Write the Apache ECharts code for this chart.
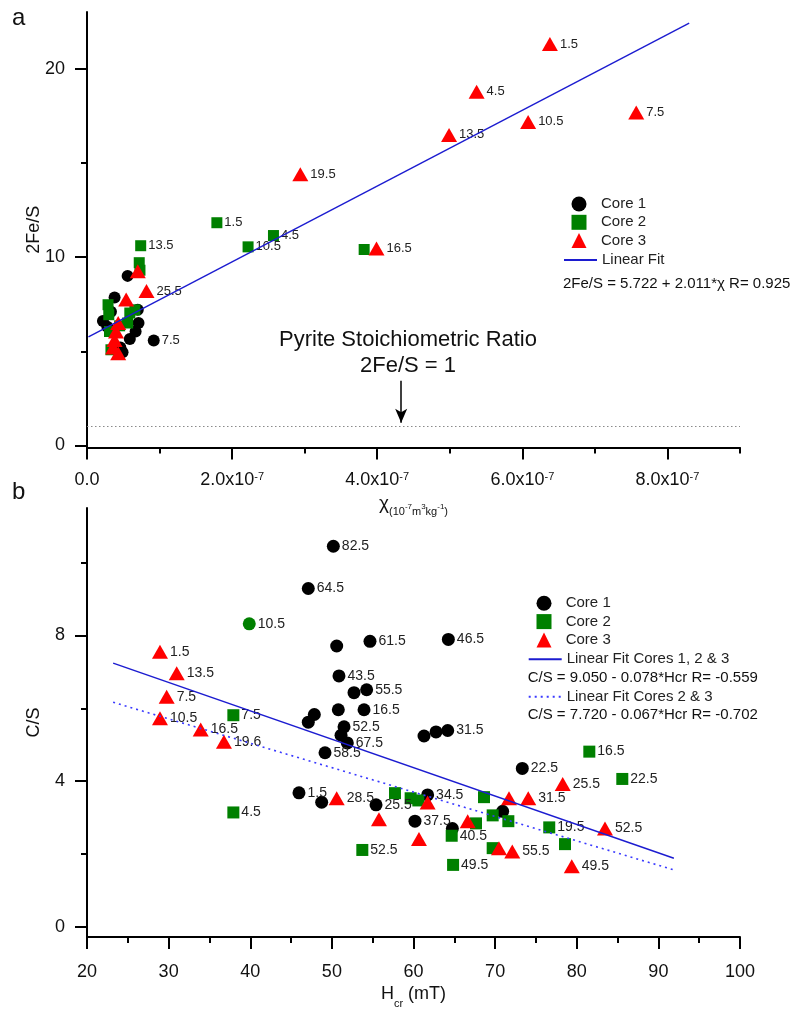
<!DOCTYPE html>
<html>
<head>
<meta charset="utf-8">
<script src="https://cdn.jsdelivr.net/npm/echarts@6/dist/echarts.min.js"></script>
<style>
  html, body { margin: 0; padding: 0; background: #fff; }
  #chart { width: 798px; height: 1010px; }
</style>
</head>
<body>
<div id="chart"></div>
<script>
// ---------- Panel a: 2Fe/S against susceptibility chi (x values in units of 1e-7 m3/kg) ----------
// each point: [chi, 2Fe/S, depth label]
const chiCore1 = [
  [0.56, 9.0], [0.38, 7.85], [0.33, 7.1], [0.22, 6.6], [0.70, 7.2], [0.71, 6.5],
  [0.67, 6.05], [0.59, 5.65], [0.46, 5.2], [0.49, 4.95], [0.28, 6.3], [0.92, 5.57, '7.5']
];
const chiCore2 = [
  [0.74, 10.6, '13.5'], [0.72, 9.7], [0.73, 9.3], [0.29, 7.47], [0.30, 6.94], [0.31, 6.05],
  [0.33, 5.08], [0.59, 7.03], [0.66, 7.2], [0.56, 6.5], [0.45, 6.35],
  [1.79, 11.82, '1.5'], [2.22, 10.54, '10.5'], [2.57, 11.14, '4.5'], [3.82, 10.4]
];
const chiCore3 = [
  [0.70, 9.25], [0.82, 8.2, '25.5'], [0.54, 7.75], [0.43, 6.5], [0.40, 6.05], [0.38, 5.6],
  [0.36, 5.2], [0.43, 4.9], [2.94, 14.39, '19.5'], [3.99, 10.45, '16.5'], [4.99, 16.48, '13.5'],
  [5.37, 18.77, '4.5'], [6.08, 17.17, '10.5'], [6.38, 21.3, '1.5'], [7.57, 17.67, '7.5']
];
// fitted line 2Fe/S = 5.722 + 2.011*chi, drawn over the sampled chi range
const fitTop = { intercept: 5.722, slope: 2.011, from: 0.02, to: 8.3 };
const pyriteRatio = 1;          // stoichiometric 2Fe/S of pyrite
const arrowChi = 4.33;          // x position of the annotation arrow
const arrowFrom = 3.43, arrowTo = 1.21;

const chiTicks = [0, 2, 4, 6, 8];
const chiMinor = [1, 3, 5, 7, 9];
const feTicks = [0, 10, 20];
const feMinor = [5, 15];

// ---------- Panel b: C/S against coercivity of remanence Hcr (mT) ----------
const hcrCore1 = [
  [50.18, 10.45, '82.5'], [47.11, 9.29, '64.5'], [50.59, 7.71], [54.67, 7.84, '61.5'],
  [64.27, 7.89, '46.5'], [50.87, 6.89, '43.5'], [52.71, 6.43], [54.26, 6.51, '55.5'],
  [50.79, 5.96], [53.94, 5.96, '16.5'], [47.85, 5.83], [47.11, 5.62], [51.49, 5.49, '52.5'],
  [51.12, 5.26], [51.89, 5.05, '67.5'], [49.16, 4.78, '58.5'], [61.29, 5.24], [62.76, 5.35],
  [64.19, 5.39, '31.5'], [73.33, 4.35, '22.5'], [45.97, 3.68, '1.5'], [48.75, 3.42],
  [55.41, 3.35, '25.5'], [61.73, 3.62, '34.5'], [60.18, 2.90, '37.5'], [64.76, 2.70], [70.92, 3.17]
];
const hcrCore2 = [
  [37.93, 5.81, '7.5'], [37.93, 3.14, '4.5'], [53.73, 2.11, '52.5'], [57.73, 3.67],
  [59.65, 3.53], [60.59, 3.47], [64.68, 2.50, '40.5'], [64.85, 1.70, '49.5'], [67.66, 2.84],
  [68.64, 3.56], [69.70, 3.06], [71.62, 2.90], [69.70, 2.16], [76.63, 2.73, '19.5'],
  [78.56, 2.27], [81.54, 4.81, '16.5'], [85.58, 4.06, '22.5']
];
// Core 2 sample plotted with a round marker
const hcrCore2Round = [[39.88, 8.32, '10.5']];
const hcrCore3 = [
  [28.94, 7.55, '1.5'], [30.99, 6.96, '13.5'], [29.76, 6.32, '7.5'], [28.94, 5.73, '10.5'],
  [33.93, 5.42, '16.5'], [36.78, 5.08, '19.6'], [50.59, 3.53, '28.5'], [55.77, 2.95],
  [61.73, 3.41], [60.67, 2.41], [66.64, 2.90], [70.47, 2.16], [72.10, 2.07, '55.5'],
  [71.70, 3.53], [74.06, 3.53, '31.5'], [78.28, 3.92, '25.5'], [83.46, 2.70, '52.5'],
  [79.39, 1.66, '49.5']
];
const fitAll = { intercept: 9.050, slope: -0.078, from: 23.2, to: 91.9 };
const fitCores23 = { intercept: 7.720, slope: -0.067, from: 23.2, to: 91.9 };

const hcrTicks = [20, 30, 40, 50, 60, 70, 80, 90, 100];
const hcrMinor = [25, 35, 45, 55, 65, 75, 85, 95];
const csTicks = [0, 4, 8];
const csMinor = [2, 6, 10];

// ---------- helpers ----------
const FONT = 'Liberation Sans, Arial, Helvetica, sans-serif';
const BLACK = '#000000', GREEN = '#008000', RED = '#ff0000', BLUE = '#1c1cd0';

const toPoints = arr => arr.map(p => ({ value: [p[0], p[1]], name: p[2] || '' }));
const lineEnds = f => [[f.from, f.intercept + f.slope * f.from], [f.to, f.intercept + f.slope * f.to]];

function majorAxis(gridIndex, min, max, ticks, margin, extra) {
  return Object.assign({
    gridIndex, type: 'value', min, max,
    axisLine: { show: true, onZero: false, lineStyle: { color: '#000', width: 2 } },
    axisTick: { show: true, customValues: ticks, length: 12, lineStyle: { color: '#000', width: 2 } },
    axisLabel: { customValues: ticks, margin, color: '#111', fontSize: 18, fontFamily: FONT },
    splitLine: { show: false },
    nameLocation: 'middle',
    nameMoveOverlap: false,
    nameTextStyle: { color: '#111', fontSize: 18, fontFamily: FONT }
  }, extra);
}
function minorAxis(gridIndex, min, max, ticks, position) {
  return {
    gridIndex, type: 'value', min, max, position,
    axisLine: { show: false, onZero: false },
    axisTick: { show: true, customValues: ticks, length: 6, lineStyle: { color: '#000', width: 2 } },
    axisLabel: { show: false },
    splitLine: { show: false }
  };
}
function scatter(name, data, xi, yi, color, symbol, size, labelSize) {
  return {
    name, type: 'scatter', xAxisIndex: xi, yAxisIndex: yi,
    symbol, symbolSize: size, data,
    itemStyle: { color, opacity: 1 },
    label: {
      show: true, position: 'right', distance: 2,
      formatter: p => p.name, color: '#222', fontSize: labelSize, fontFamily: FONT
    },
    emphasis: { disabled: true }
  };
}
// legend block for the marker entries (square icon box, text pushed to line up with line entries)
function markerLegend(left, top, textPad) {
  return {
    left, top, padding: 0, orient: 'vertical', selectedMode: false,
    itemWidth: 15, itemHeight: 15, itemGap: 3.3,
    textStyle: { fontSize: 15, color: '#222', fontFamily: FONT, padding: [0, 0, 0, textPad] },
    data: ['Core 1', 'Core 2', 'Core 3']
  };
}
// legend block for one fitted line (no marker drawn on the line icon)
function lineLegend(left, top, name) {
  return {
    left, top, padding: 0, orient: 'vertical', selectedMode: false,
    itemWidth: 33, itemHeight: 15,
    textStyle: { fontSize: 15, color: '#222', fontFamily: FONT },
    data: [{ name, itemStyle: { opacity: 0 } }]
  };
}

const supRich = {
  n: { fontSize: 18, lineHeight: 18, color: '#111', fontFamily: FONT },
  p: { fontSize: 11, lineHeight: 11, verticalAlign: 'top', color: '#111', fontFamily: FONT }
};

const core2Bottom = toPoints(hcrCore2).concat(
  toPoints(hcrCore2Round).map(d => Object.assign(d, { symbol: 'circle', symbolSize: 13 }))
);

const chart = echarts.init(document.getElementById('chart'), null, { renderer: 'canvas' });

chart.setOption({
  animation: false,
  backgroundColor: '#ffffff',
  textStyle: { fontFamily: FONT },
  grid: [
    { left: 87, right: 58, top: 12, bottom: 1010 - 447.4 },
    { left: 87, right: 58, top: 508, bottom: 67 }
  ],
  xAxis: [
    majorAxis(0, 0, 9, chiTicks, 24, {
      position: 'bottom',
      axisLabel: {
        customValues: chiTicks, margin: 24, color: '#111', fontFamily: FONT,
        formatter: v => v === 0 ? '{n|0.0}' : '{n|' + v.toFixed(1) + 'x10}{p|-7}',
        rich: supRich
      },
      name: '{c|χ}{s|(10}{ss|-7}{s|m}{ss|3}{s|kg}{ss|-1}{s|)}',
      nameGap: 46,
      nameTextStyle: {
        color: '#111', fontFamily: FONT,
        rich: {
          c: { fontSize: 19, lineHeight: 20, color: '#111', fontFamily: FONT },
          s: { fontSize: 11, lineHeight: 11, verticalAlign: 'top', padding: [13, 0, 0, 0], color: '#111', fontFamily: FONT },
          ss: { fontSize: 8, lineHeight: 8, verticalAlign: 'top', padding: [9, 0, 0, 0], color: '#111', fontFamily: FONT }
        }
      }
    }),
    minorAxis(0, 0, 9, chiMinor, 'bottom'),
    majorAxis(1, 20, 100, hcrTicks, 26, {
      position: 'bottom',
      name: '{n|H}{s|cr}{n| (mT)}',
      nameGap: 47,
      nameTextStyle: {
        color: '#111', fontFamily: FONT,
        rich: {
          n: { fontSize: 18, lineHeight: 20, color: '#111', fontFamily: FONT },
          s: { fontSize: 11, lineHeight: 11, verticalAlign: 'top', padding: [14, 0, 0, 0], color: '#111', fontFamily: FONT }
        }
      }
    }),
    minorAxis(1, 20, 100, hcrMinor, 'bottom')
  ],
  yAxis: [
    majorAxis(0, -0.1, 23, feTicks, 22, { position: 'left', name: '2Fe/S', nameGap: 44 }),
    minorAxis(0, -0.1, 23, feMinor, 'left'),
    majorAxis(1, -0.28, 11.5, csTicks, 22, { position: 'left', name: 'C/S', nameGap: 44 }),
    minorAxis(1, -0.28, 11.5, csMinor, 'left')
  ],
  legend: [
    markerLegend(571.5, 196.5, 9.5),
    lineLegend(563, 252.5, 'Linear Fit'),
    markerLegend(536.5, 595.8, 9.2),
    lineLegend(527.7, 651.8, 'Linear Fit Cores 1, 2 & 3'),
    lineLegend(527.7, 689.2, 'Linear Fit Cores 2 & 3')
  ],
  series: [
    // panel a
    scatter('Core 1', toPoints(chiCore1), 0, 0, BLACK, 'circle', 12, 13),
    scatter('Core 2', toPoints(chiCore2), 0, 0, GREEN, 'rect', 11, 13),
    scatter('Core 3', toPoints(chiCore3), 0, 0, RED, 'triangle', [16, 14], 13),
    {
      name: 'Linear Fit', type: 'line', xAxisIndex: 0, yAxisIndex: 0,
      data: lineEnds(fitTop), symbol: 'none', silent: true,
      lineStyle: { color: BLUE, width: 1.4 },
      markLine: {
        silent: true, animation: false,
        symbol: ['none', 'none'],
        label: { show: false },
        data: [
          {
            yAxis: pyriteRatio,
            lineStyle: { color: '#8a8a8a', width: 1.2, type: [1.5, 2.5] }
          },
          [
            { coord: [arrowChi, arrowFrom], symbol: 'none', lineStyle: { color: '#000', width: 1.5, type: 'solid' } },
            { coord: [arrowChi, arrowTo], symbol: 'arrow', symbolSize: [9, 14] }
          ]
        ]
      }
    },
    // panel b
    scatter('Core 1', toPoints(hcrCore1), 2, 2, BLACK, 'circle', 13, 14),
    scatter('Core 2', core2Bottom, 2, 2, GREEN, 'rect', 12, 14),
    scatter('Core 3', toPoints(hcrCore3), 2, 2, RED, 'triangle', [16, 14], 14),
    {
      name: 'Linear Fit Cores 1, 2 & 3', type: 'line', xAxisIndex: 2, yAxisIndex: 2,
      data: lineEnds(fitAll), symbol: 'none', silent: true,
      lineStyle: { color: BLUE, width: 1.4 }
    },
    {
      name: 'Linear Fit Cores 2 & 3', type: 'line', xAxisIndex: 2, yAxisIndex: 2,
      data: lineEnds(fitCores23), symbol: 'none', silent: true,
      lineStyle: { color: '#3a3aff', width: 1.6, type: [2, 4] }
    }
  ],
  graphic: [
    { type: 'text', x: 12, y: 18, style: { text: 'a', font: '24px ' + FONT, fill: '#111', verticalAlign: 'middle' } },
    { type: 'text', x: 12, y: 492, style: { text: 'b', font: '24px ' + FONT, fill: '#111', verticalAlign: 'middle' } },
    { type: 'text', x: 408, y: 340, style: { text: 'Pyrite Stoichiometric Ratio', font: '22px ' + FONT, fill: '#111', align: 'center', verticalAlign: 'middle' } },
    { type: 'text', x: 408, y: 366, style: { text: '2Fe/S = 1', font: '22px ' + FONT, fill: '#111', align: 'center', verticalAlign: 'middle' } },
    { type: 'text', x: 563, y: 284.3, style: { text: '2Fe/S = 5.722 + 2.011*χ R= 0.925', font: '15px ' + FONT, fill: '#111', verticalAlign: 'middle' } },
    { type: 'text', x: 527.7, y: 677.7, style: { text: 'C/S = 9.050 - 0.078*Hcr R= -0.559', font: '15px ' + FONT, fill: '#111', verticalAlign: 'middle' } },
    { type: 'text', x: 527.7, y: 715, style: { text: 'C/S = 7.720 - 0.067*Hcr R= -0.702', font: '15px ' + FONT, fill: '#111', verticalAlign: 'middle' } }
  ]
});
</script>
</body>
</html>
